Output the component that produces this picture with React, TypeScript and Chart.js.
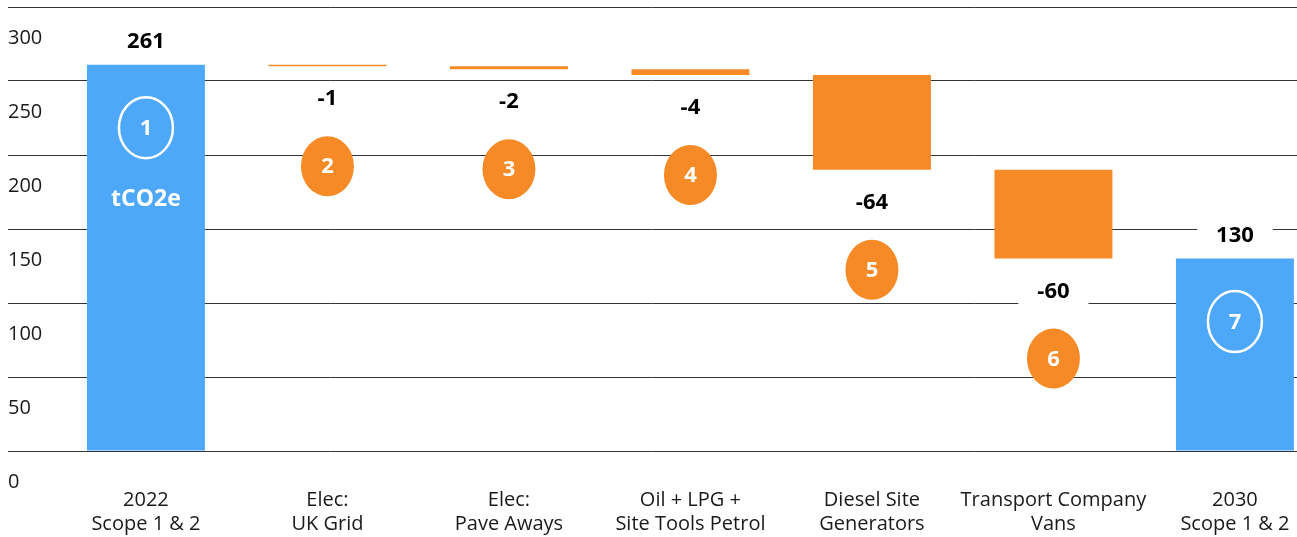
import { useEffect, useRef } from "react";
import { Chart, registerables } from "chart.js";

Chart.register(...registerables);

// ---- data ----
const categories: string[][] = [
  ["2022", "Scope 1 & 2"],
  ["Elec:", "UK Grid"],
  ["Elec:", "Pave Aways"],
  ["Oil + LPG +", "Site Tools Petrol"],
  ["Diesel Site", "Generators"],
  ["Transport Company", "Vans"],
  ["2030", "Scope 1 & 2"],
];
const barKinds = ["total", "delta", "delta", "delta", "delta", "delta", "total"];
const barValues = [261, -1, -2, -4, -64, -60, 130];
const stepNumbers = ["1", "2", "3", "4", "5", "6", "7"];
const unitLabel = "tCO2e";
const yTickValues = [0, 50, 100, 150, 200, 250, 300];

const BLUE = "#4DA8FA";
const ORANGE = "#F68A27";
const FONT = '"Open Sans", "DejaVu Sans", sans-serif';

function buildRanges(): number[][] {
  let running = 0;
  return barValues.map((v, i) => {
    if (barKinds[i] === "total") {
      running = v;
      return [0, v];
    }
    const start = running;
    running += v;
    return [running, start];
  });
}

function drawLabel(ctx: CanvasRenderingContext2D, text: string, x: number, y: number) {
  ctx.font = `bold 22px ${FONT}`;
  const w = ctx.measureText(text).width;
  ctx.fillStyle = "#ffffff";
  ctx.fillRect(x - w / 2 - 19, y - 14, w + 38, 28);
  ctx.fillStyle = "#000000";
  ctx.textAlign = "center";
  ctx.textBaseline = "middle";
  ctx.fillText(text, x, y + 1);
}

const annotationPlugin = {
  id: "waterfallAnnotations",
  afterDatasetsDraw(chart: any) {
    const ctx: CanvasRenderingContext2D = chart.ctx;
    const meta = chart.getDatasetMeta(0);
    ctx.save();
    meta.data.forEach((el: any, i: number) => {
      const { x, y, base } = el.getProps(["x", "y", "base"], true);
      const top = Math.min(y, base);
      const bottom = Math.max(y, base);
      const label = String(barValues[i]);
      if (barKinds[i] === "total") {
        drawLabel(ctx, label, x, top - 24);
        const cy = top + 63;
        ctx.beginPath();
        ctx.ellipse(x, cy, 27, 30.5, 0, 0, Math.PI * 2);
        ctx.strokeStyle = "#ffffff";
        ctx.lineWidth = 2.5;
        ctx.stroke();
        ctx.fillStyle = "#ffffff";
        ctx.font = `bold 22px ${FONT}`;
        ctx.textAlign = "center";
        ctx.textBaseline = "middle";
        ctx.fillText(stepNumbers[i], x, cy + 1);
        if (i === 0) {
          ctx.font = `bold 23px ${FONT}`;
          ctx.fillText(unitLabel, x, top + 135);
        }
      } else {
        drawLabel(ctx, label, x, bottom + 32);
        const cy = bottom + 100;
        ctx.beginPath();
        ctx.ellipse(x, cy, 26.5, 30, 0, 0, Math.PI * 2);
        ctx.fillStyle = ORANGE;
        ctx.fill();
        ctx.fillStyle = "#ffffff";
        ctx.font = `bold 22px ${FONT}`;
        ctx.textAlign = "center";
        ctx.textBaseline = "middle";
        ctx.fillText(stepNumbers[i], x, cy + 1);
      }
    });
    ctx.restore();
  },
};

export default function App() {
  const canvasRef = useRef<HTMLCanvasElement | null>(null);

  useEffect(() => {
    if (!canvasRef.current) return;
    const ranges = buildRanges();
    const chart = new Chart(canvasRef.current, {
      type: "bar",
      data: {
        datasets: [
          {
            data: ranges.map((r, i) => ({ x: i, y: r })) as any,
            backgroundColor: barKinds.map((k) => (k === "total" ? BLUE : ORANGE)),
            borderWidth: 0,
            barPercentage: 0.65,
            categoryPercentage: 1,
          },
        ],
      },
      options: {
        animation: false,
        responsive: false,
        layout: { padding: { left: 8, right: 0, top: 7, bottom: 1 } },
        plugins: {
          legend: { display: false },
          tooltip: { enabled: false },
        },
        scales: {
          x: {
            type: "linear",
            min: -0.76,
            max: 6.342,
            offset: false,
            afterBuildTicks: (s: any) => {
              s.ticks = categories.map((_, i) => ({ value: i }));
            },
            afterFit: (s: any) => {
              s.paddingLeft = 0;
              s.paddingRight = 0;
              s.height = 85;
            },
            grid: { display: false, drawTicks: false },
            border: { display: false },
            ticks: {
              padding: 37,
              autoSkip: false,
              maxRotation: 0,
              minRotation: 0,
              color: "#1a1a1a",
              font: { family: FONT, size: 20, lineHeight: 1.2 },
              callback: (v: any) => categories[Math.round(Number(v))] ?? "",
            },
          },
          y: {
            min: 0,
            max: 300,
            afterBuildTicks: (s: any) => {
              s.ticks = yTickValues.map((v) => ({ value: v }));
            },
            afterFit: (s: any) => {
              s.paddingTop = 0;
              s.paddingBottom = 0;
            },
            grid: { color: "#333333", lineWidth: 1, drawTicks: false },
            border: { display: false },
            ticks: {
              mirror: true,
              padding: 0,
              labelOffset: 31,
              color: "#1a1a1a",
              font: { family: FONT, size: 20, lineHeight: 1.2 },
            },
          },
        },
      } as any,
      plugins: [annotationPlugin],
    });
    return () => chart.destroy();
  }, []);

  return (
    <div style={{ position: "fixed", left: 0, top: 0, width: 1297, height: 537, background: "#fff" }}>
      <canvas ref={canvasRef} width={1297} height={537} style={{ display: "block" }} />
    </div>
  );
}
